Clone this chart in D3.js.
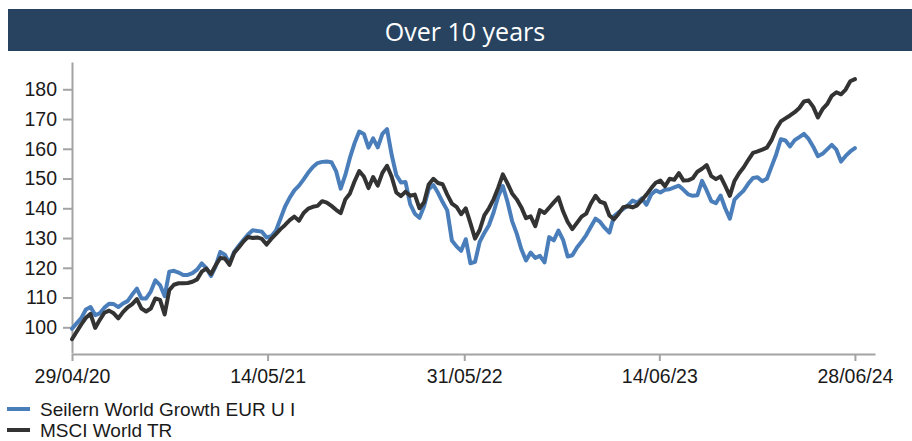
<!DOCTYPE html>
<html>
<head>
<meta charset="utf-8">
<script src="https://cdn.jsdelivr.net/npm/d3@7/dist/d3.min.js"></script>
<style>
  html, body { margin: 0; padding: 0; background: #fff; }
  svg { display: block; }
</style>
</head>
<body>
<svg id="chart" width="912" height="441"></svg>
<script>
// ---------------- DATA ----------------
const title = "Over 10 years";
const seriesNames = ["Seilern World Growth EUR U I", "MSCI World TR"];
const startDate = "2020-04-29";
const stepDays = 9; // sampling interval of the series
const xTickLabels = ["2020-04-29", "2021-05-14", "2022-05-31", "2023-06-14", "2024-06-28"];
const yTickValues = [100, 110, 120, 130, 140, 150, 160, 170, 180];

const seilern = [
  99.5,101.3,103.1,106,106.8,104.1,104.7,106.6,107.9,107.8,
  106.8,108,108.8,111,113,109.7,109.7,112,115.8,114.2,
  110.5,118.7,119,118.4,117.6,117.6,118.2,119.4,121.5,119.9,
  117.2,120.5,125.3,124.4,121.5,125.3,127.4,129.3,131.2,132.6,
  132.4,132.1,130.2,130.6,132.4,136.5,140.6,143.6,146,147.6,
  149.7,152,153.9,155.2,155.6,155.7,155.5,152.5,146.6,151.2,
  157,161.9,165.8,165,160.4,163.5,160.5,165,166.6,158,
  151.2,148.7,148.8,141.4,138.2,136.8,140.7,146.4,147.8,145.2,
  142.1,139.3,129.2,127.2,125.7,129.6,121.5,122,128.7,131.7,
  134.3,138.6,144,147.5,142.2,135.7,131.5,126.2,122.5,125.1,
  123.3,124,121.8,130.3,129.2,132.5,129.4,123.8,124.2,126.8,
  128.8,131,133.8,136.5,135.4,133.4,131.8,137.4,138.6,139.8,
  141,142.6,141.9,143.3,141.2,144.6,146,145.3,146.2,146.4,
  147,147.6,146.2,144.7,144.2,144.4,149.2,146,142.4,141.7,
  144.3,140,136.5,142.9,144.5,146,148.3,150.2,150.4,149.1,
  149.9,154,158.1,163.2,162.8,160.8,162.9,163.9,165,163.3,
  160.7,157.5,158.3,159.8,161.3,159.7,155.7,157.6,159.1,160.2
];

const msci = [
  96,98.5,101,103.2,104.5,99.8,102.5,104.9,105.6,104.7,
  103,105.1,106.7,107.8,109.5,106.3,105.3,106.3,109.7,109.2,
  104.3,112.5,114.3,114.8,114.8,114.9,115.3,116.1,118.7,119.7,
  117.9,120.8,123.3,123.1,121,125,126.8,128.8,130.4,130,
  130.2,129.7,127.8,129.7,131.3,133,134.4,136,137.2,135.8,
  138.4,139.9,140.5,140.8,142.4,141.9,140.8,139.5,138.4,143,
  145,149.1,152.5,150.7,146.8,150.5,147.6,151.9,154.3,150.6,
  145.3,144.1,145.6,144.2,144.6,140,142,148,149.9,148.5,
  148.1,144.6,141.6,140.5,138,140,135,129.8,132.7,137.6,
  140,143,146.9,151.4,148.4,145,143,140.3,136.7,137.3,
  134,139.4,138.4,140.2,142,143.7,139,135.4,133,135.1,
  137.2,138.2,141.6,144.2,142.2,141.7,137.6,136.3,138.2,140.4,
  140.7,140.3,141,142.8,144.6,146.7,148.6,149.3,147.4,149.9,
  149.6,151.8,149.3,149.4,150.1,152.3,153.3,154.5,150.8,149.8,
  150.7,147.5,144.2,149.2,151.8,153.8,156.3,158.6,159.1,159.7,
  160.4,162.9,166.6,169.2,170.2,171.2,172.3,173.7,175.9,176.2,
  174.1,170.5,173.3,175,177.8,179,178.3,179.9,182.7,183.4
];

// ---------------- CHART ----------------
const parse = d3.timeParse("%Y-%m-%d");
const start = parse(startDate);
const dates = seilern.map((_, i) => d3.timeDay.offset(start, i * stepDays));
const xTicks = xTickLabels.map(parse);

const colors = ["#4a7ebb", "#333333"];
const series = [seilern, msci].map((vals, k) => ({
  name: seriesNames[k],
  color: colors[k],
  points: vals.map((v, i) => ({ date: dates[i], value: v }))
}));

const svg = d3.select("#chart");
const W = 912, H = 441;

// Title bar
svg.append("rect")
  .attr("x", 8).attr("y", 9).attr("width", W - 8).attr("height", 42)
  .attr("fill", "#28435f");
svg.append("text")
  .attr("x", 465).attr("y", 31)
  .attr("text-anchor", "middle").attr("dominant-baseline", "central")
  .attr("fill", "#ffffff")
  .style("font-family", "'Open Sans', 'Noto Sans', sans-serif")
  .style("font-size", "25px")
  .text(title);

const x = d3.scaleTime()
  .domain([start, d3.timeDay.offset(xTicks[xTicks.length - 1], 39)])
  .range([72, 875]);
const y = d3.scaleLinear()
  .domain([91.36, 189.17])
  .range([353, 62]);

const axisColor = "#a3a3a3";
const fontFam = "'Liberation Sans', Arial, sans-serif";

const gy = svg.append("g").attr("transform", "translate(72,0)")
  .call(d3.axisLeft(y).tickValues(yTickValues).tickSize(9).tickSizeOuter(0).tickPadding(6));
const gx = svg.append("g").attr("transform", "translate(0,354)")
  .call(d3.axisBottom(x).tickValues(xTicks).tickFormat(d3.timeFormat("%d/%m/%y"))
    .tickSize(7).tickSizeOuter(0).tickPadding(8));

[gx, gy].forEach(g => {
  g.select(".domain").attr("stroke", axisColor).attr("stroke-width", 2);
  g.selectAll(".tick line").attr("stroke", axisColor).attr("stroke-width", 2);
  g.selectAll(".tick text").attr("fill", "#1a1a1a")
    .style("font-family", fontFam).style("font-size", "19.5px");
});

const line = d3.line()
  .x(d => x(d.date))
  .y(d => y(d.value));

svg.append("g").selectAll("path.series")
  .data(series)
  .join("path")
  .attr("class", "series")
  .attr("fill", "none")
  .attr("stroke", d => d.color)
  .attr("stroke-width", 4)
  .attr("stroke-linejoin", "round")
  .attr("stroke-linecap", "round")
  .attr("d", d => line(d.points));

// Legend
const legend = svg.append("g");
const li = legend.selectAll("g").data(series).join("g")
  .attr("transform", (d, i) => `translate(0,${409 + i * 21})`);
li.append("line")
  .attr("x1", 7).attr("x2", 30).attr("y1", 0).attr("y2", 0)
  .attr("stroke", d => d.color).attr("stroke-width", 4);
li.append("text")
  .attr("x", 40).attr("y", 0)
  .attr("dominant-baseline", "central")
  .attr("fill", "#1a1a1a")
  .style("font-family", fontFam).style("font-size", "19px")
  .text(d => d.name);
</script>
</body>
</html>
